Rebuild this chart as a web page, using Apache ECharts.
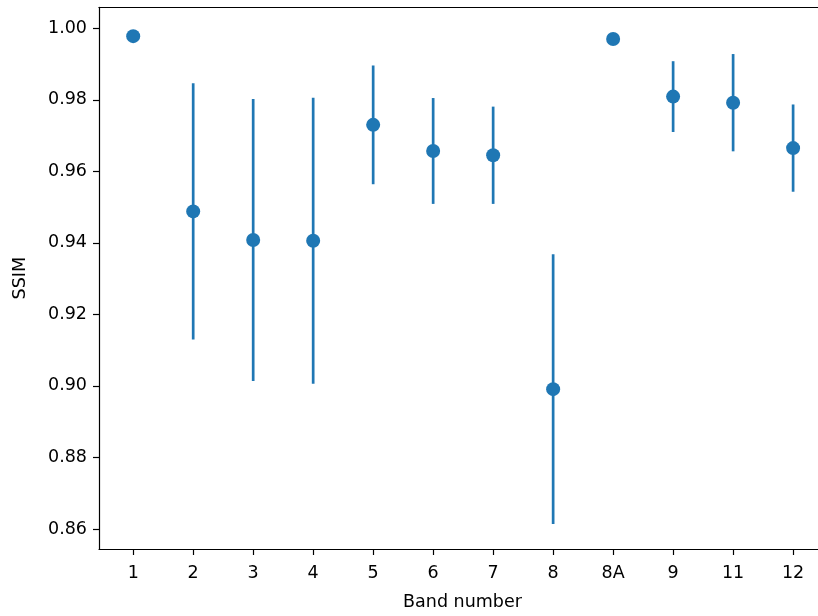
<!DOCTYPE html>
<html>
<head>
<meta charset="utf-8">
<script src="https://cdn.jsdelivr.net/npm/echarts@6/dist/echarts.min.js"></script>
<style>
html,body{margin:0;padding:0;background:#fff;}
#chart{width:818px;height:616px;}
</style>
</head>
<body>
<div id="chart"></div>
<script>
const categories = ['1','2','3','4','5','6','7','8','8A','9','11','12'];
const ssimMean = [0.9978, 0.9488, 0.9408, 0.9406, 0.9730, 0.9657, 0.9645, 0.8991, 0.9970, 0.9809, 0.9792, 0.9665];
const ssimStd  = [0.0010, 0.0358, 0.0394, 0.0400, 0.0166, 0.0148, 0.0136, 0.0377, 0.0010, 0.0099, 0.0136, 0.0122];
const yTicks = [0.86, 0.88, 0.90, 0.92, 0.94, 0.96, 0.98, 1.00];
const xTicks = categories.map((c, i) => i);

const pointData = ssimMean.map((v, i) => [i, v]);
const errData = ssimMean.map((v, i) => [i, v - ssimStd[i], v + ssimStd[i]]);

const color = '#1f77b4';
const font = 'DejaVu Sans';
const xMin = -0.57, xMax = 11.415;

const chart = echarts.init(document.getElementById('chart'), null, {renderer: 'canvas'});
chart.setOption({
  backgroundColor: '#fff',
  animation: false,
  grid: {left: 99, top: 7.3, right: 0, bottom: 66.7, show: false},
  xAxis: [{
    type: 'value', min: xMin, max: xMax,
    name: 'Band number', nameLocation: 'middle', nameGap: 44,
    nameTextStyle: {fontFamily: font, fontSize: 17.5, color: '#000', padding: [0, 0, 0, 8]},
    axisLine: {show: true, onZero: false, lineStyle: {color: '#000', width: 1.2}},
    axisTick: {show: true, length: 6, lineStyle: {color: '#000', width: 1.2}, customValues: xTicks},
    axisLabel: {customValues: xTicks, margin: 15, fontFamily: font, fontSize: 17.5, color: '#000',
      formatter: v => categories[Math.round(v)]},
    splitLine: {show: false}
  }, {
    type: 'value', min: xMin, max: xMax, position: 'top',
    axisLine: {show: true, onZero: false, lineStyle: {color: '#000', width: 1.2}},
    axisTick: {show: false}, axisLabel: {show: false}, splitLine: {show: false}
  }],
  yAxis: {
    type: 'value', min: 0.85441, max: 1.00587,
    name: 'SSIM', nameLocation: 'middle', nameGap: 70,
    nameTextStyle: {fontFamily: font, fontSize: 17.5, color: '#000'},
    axisLine: {show: true, onZero: false, lineStyle: {color: '#000', width: 1.2}},
    axisTick: {show: true, length: 6, lineStyle: {color: '#000', width: 1.2}, customValues: yTicks},
    axisLabel: {customValues: yTicks, margin: 12, fontFamily: font, fontSize: 17.5, color: '#000',
      formatter: v => v.toFixed(2)},
    splitLine: {show: false}
  },
  series: [
    {
      type: 'custom',
      data: errData,
      encode: {x: 0, y: [1, 2]},
      renderItem: function (params, api) {
        const x = api.value(0);
        const lo = api.coord([x, api.value(1)]);
        const hi = api.coord([x, api.value(2)]);
        return {
          type: 'line',
          shape: {x1: lo[0], y1: lo[1], x2: hi[0], y2: hi[1]},
          style: {stroke: color, lineWidth: 2.7, lineCap: 'butt'}
        };
      },
      z: 2
    },
    {
      type: 'scatter',
      data: pointData,
      symbol: 'circle',
      symbolSize: 14,
      itemStyle: {color: color, opacity: 1},
      z: 3
    }
  ]
});
</script>
</body>
</html>
